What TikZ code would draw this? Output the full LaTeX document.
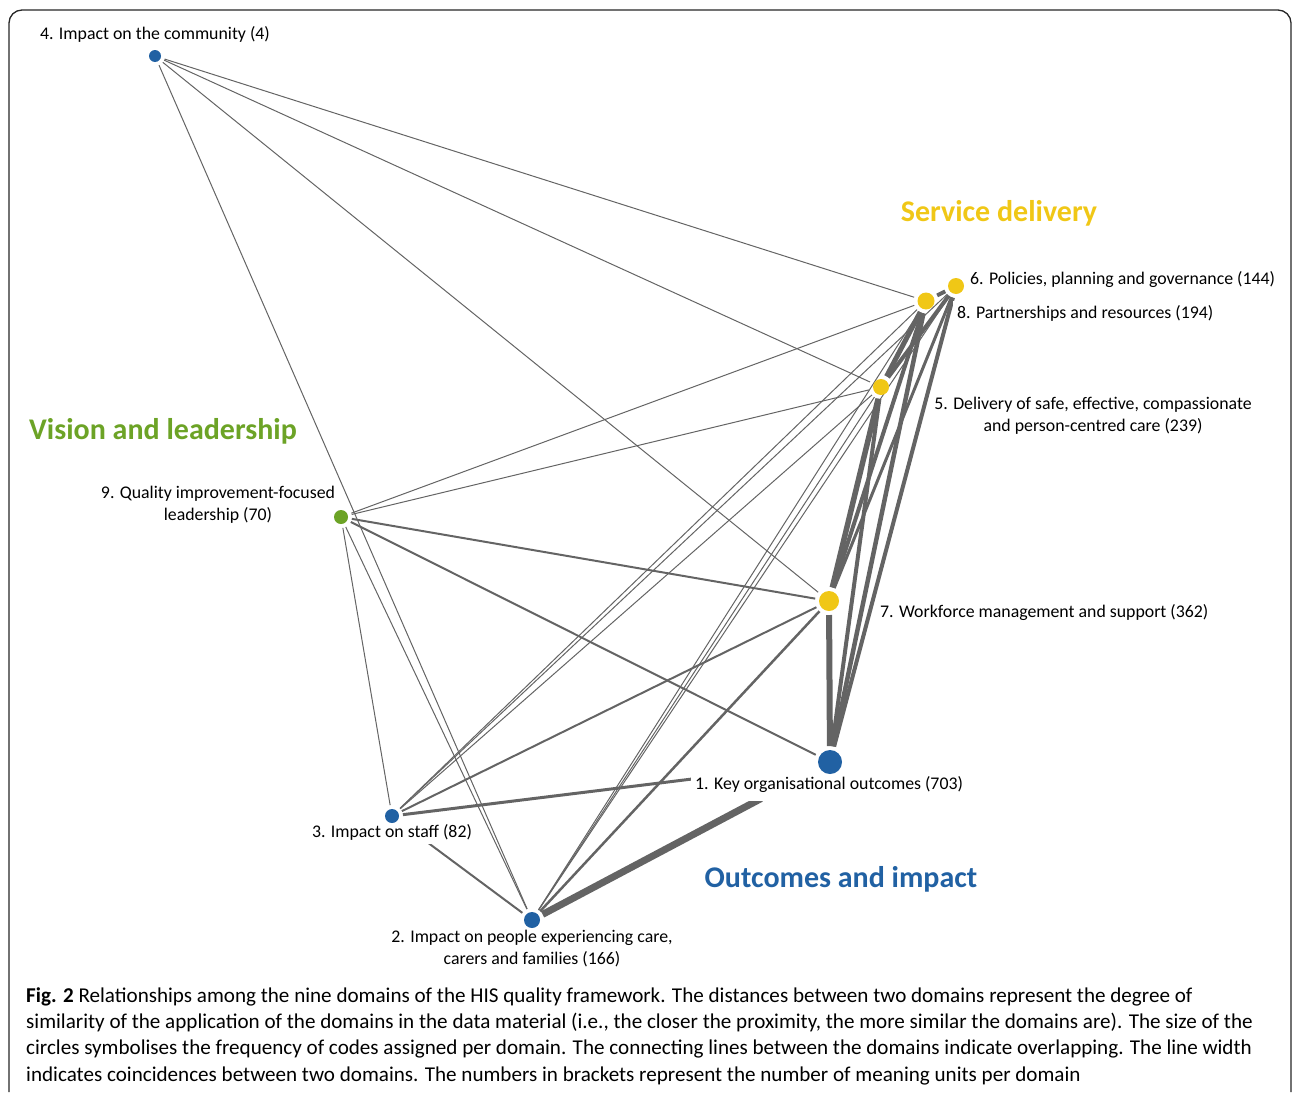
\documentclass[tikz,border=0pt]{standalone}
\usepackage{fontspec}
\setmainfont{Carlito}
\definecolor{ylw}{RGB}{240,199,22}
\definecolor{grn}{RGB}{108,163,38}
\definecolor{blu}{RGB}{33,97,163}
\definecolor{linec}{RGB}{100,100,100}
\pgfdeclarelayer{bg}
\pgfsetlayers{bg,main}
\begin{document}
\begin{tikzpicture}[x=1pt,y=-1pt,
  dom/.style={circle,inner sep=0pt,outer sep=4pt,draw=none,fill=#1},
  lbl/.style={fill=white,inner sep=4pt,font=\fontsize{17.8}{22}\selectfont,align=center},
  hd/.style={font=\fontsize{30}{34}\selectfont\bfseries,inner sep=0pt},
  ln/.style={draw=linec,line width=#1},
  frame/.style={draw=black!85,line width=1.3pt,rounded corners=13pt}
]
\useasboundingbox (0,0) rectangle (1295,1092);
% domains
\node[dom=blu,minimum size=12pt] (n4) at (155,56) {};
\node[dom=ylw,minimum size=16pt] (n6) at (956,286) {};
\node[dom=ylw,minimum size=17pt] (n8) at (926,301) {};
\node[dom=ylw,minimum size=16pt] (n5) at (881,387) {};
\node[dom=grn,minimum size=14pt] (n9) at (341,517) {};
\node[dom=ylw,minimum size=20pt] (n7) at (829,601) {};
\node[dom=blu,minimum size=24pt] (n1) at (830,762) {};
\node[dom=blu,minimum size=14pt] (n3) at (392,816) {};
\node[dom=blu,minimum size=16pt] (n2) at (532,920) {};

\begin{pgfonlayer}{bg}
\draw[frame] (9,1092) -- (9,10) -- (1291,10) -- (1291,1092);
% thin connectors
\foreach \a/\b in {n4/n8,n4/n5,n4/n7,n4/n2,n9/n8,n9/n5,n9/n3,n9/n2,n3/n8,n3/n6,n3/n5,n2/n8,n2/n6,n2/n5}
  \draw[ln=1pt] (\a) -- (\b);
% medium connectors
\draw[ln=2pt] (n9) -- (n7);
\draw[ln=2pt] (n9) -- (n1);
\draw[ln=2pt] (n3) -- (n7);
\draw[ln=3pt,shorten >=120pt] (n3) -- (n1);
\draw[ln=2pt] (n3) -- (n2);
\draw[ln=2.5pt] (n2) -- (n7);
% thick connectors
\draw[ln=7pt,shorten >=62pt] (n2) -- (n1);
\draw[ln=6pt] (n7) -- (n1);
\draw[ln=5.5pt] (n7) -- (n5);
\draw[ln=4pt] (n7) -- (n8);
\draw[ln=3pt] (n7) -- (n6);
\draw[ln=4pt] (n1) -- (n5);
\draw[ln=4.5pt] (n1) -- (n8);
\draw[ln=4pt] (n1) -- (n6);
\draw[ln=5pt] (n5) -- (n8);
\draw[ln=4pt] (n5) -- (n6);
\draw[ln=4pt] (n8) -- (n6);
% labels
\node[lbl] (l4) at (155,34) {4. Impact on the community (4)};
\node[lbl,anchor=west] (l6) at (966,280) {6. Policies, planning and governance (144)};
\node[lbl,anchor=west] (l8) at (953,313) {8. Partnerships and resources (194)};
\node[lbl] (l5) at (1093,416) {5. Delivery of safe, effective, compassionate\\and person-centred care (239)};
\node[lbl] (l9) at (218,505) {9. Quality improvement-focused\\leadership (70)};
\node[lbl,anchor=west] (l7) at (876,613) {7. Workforce management and support (362)};
\node[lbl,anchor=west,inner ysep=8pt] (l1) at (691,785) {1. Key organisational outcomes (703)};
\node[lbl] (l3) at (392,832) {3. Impact on staff (82)};
\node[lbl] (l2) at (532,949) {2. Impact on people experiencing care,\\carers and families (166)};
\end{pgfonlayer}
% group headings
\node[hd,text=ylw] (hs) at (999,213) {Service delivery};
\node[hd,text=grn] (hv) at (163,431) {Vision and leadership};
\node[hd,text=blu] (ho) at (841,879) {Outcomes and impact};
% caption
\node[anchor=north west,inner sep=0pt,align=left,font=\fontsize{21.1}{26.4}\selectfont] (cap) at (26,987)
{\textbf{Fig. 2} Relationships among the nine domains of the HIS quality framework. The distances between two domains represent the degree of\\
similarity of the application of the domains in the data material (i.e., the closer the proximity, the more similar the domains are). The size of the\\
circles symbolises the frequency of codes assigned per domain. The connecting lines between the domains indicate overlapping. The line width\\
indicates coincidences between two domains. The numbers in brackets represent the number of meaning units per domain};
\end{tikzpicture}
\end{document}
